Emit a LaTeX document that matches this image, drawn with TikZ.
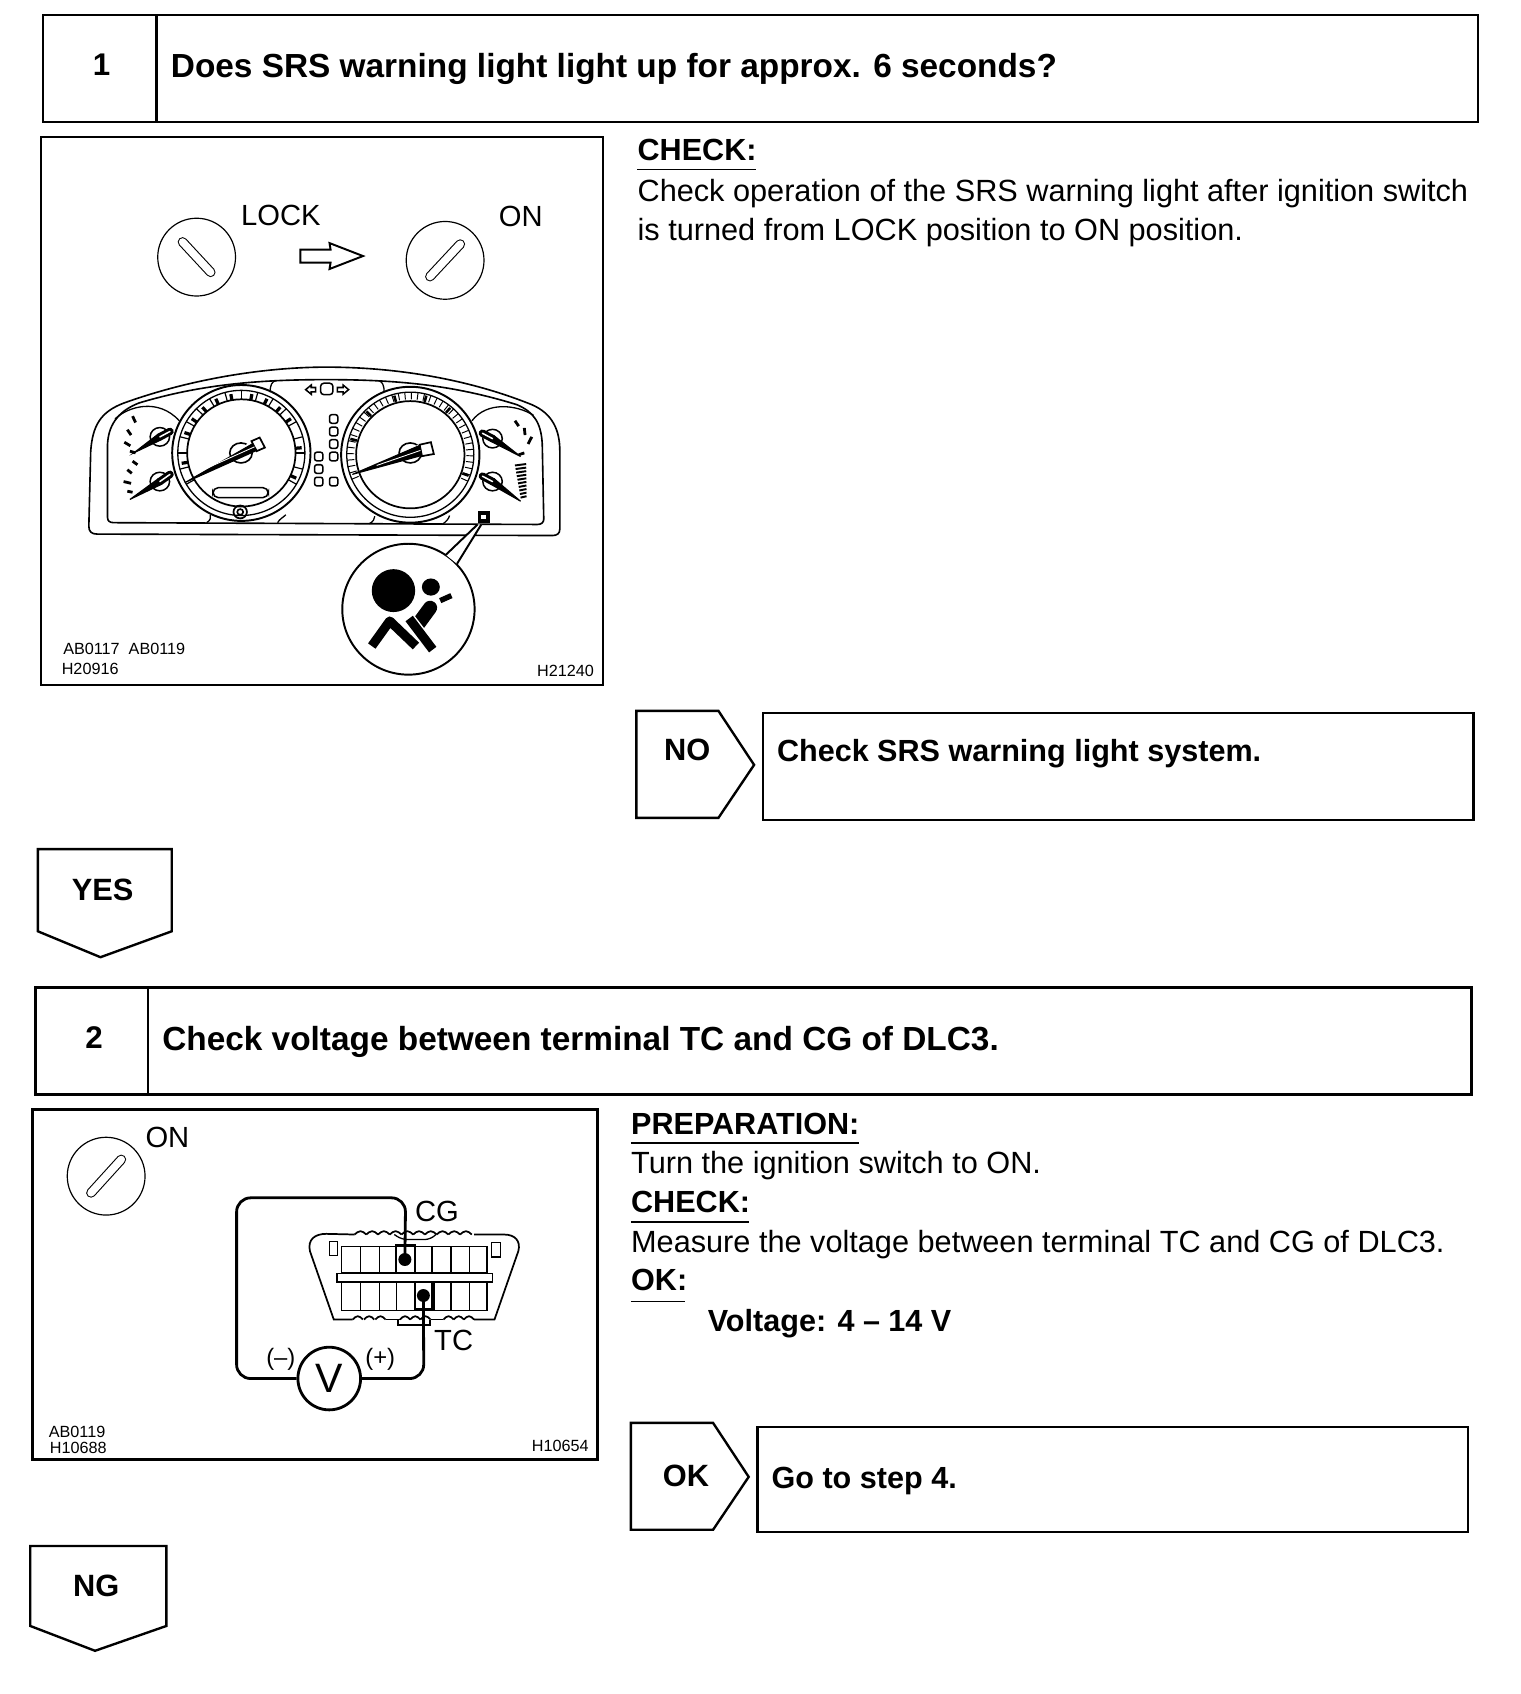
\documentclass[tikz,border=0pt]{standalone}
\usepackage{fontspec}
\setmainfont{Liberation Sans}
\usetikzlibrary{arrows.meta,calc}
\tikzset{
  frameline/.style={line width=2.2pt,black},
  stepnum/.style={font=\fontsize{29}{34}\bfseries\selectfont},
  steptitle/.style={font=\fontsize{30.9}{36}\bfseries\selectfont,anchor=west,inner sep=0pt},
  answer/.style={font=\fontsize{28.5}{34}\bfseries\selectfont,inner sep=0pt},
  bodyhead/.style={font=\fontsize{28.3}{34}\bfseries\selectfont,anchor=west,inner sep=0pt},
  bodytext/.style={font=\fontsize{28.4}{34}\selectfont,anchor=west,inner sep=0pt},
  figlabel/.style={font=\fontsize{27}{32}\selectfont,inner sep=0pt},
  figcode/.style={font=\fontsize{15}{18}\selectfont,inner sep=0pt},
  knob/.style={circle,draw,line width=1.1pt,minimum size=72pt,inner sep=0pt},
  slot/.style={double=white,double distance=7pt,line width=1pt,line cap=round},
  thinpart/.style={line width=1.2pt},
  wire/.style={line width=2.6pt,rounded corners=13pt},
}
\begin{document}
\begin{tikzpicture}[x=1pt,y=-1pt]
\useasboundingbox (0,0) rectangle (1407,1568);
\fill[white] (0,0) rectangle (1407,1568);
% ---- step 1 header
\draw[frameline] (40,14) rectangle (1368,113);
\draw[frameline] (145,14)--(145,113);
\node[stepnum] (numone) at (94,60) {1};
\node[steptitle] (titleone) at (158,64) {Does SRS warning light light up for approx. 6 seconds?};
% ---- step 1 figure
\draw[frameline] (38,127) rectangle (558,634);
\node[knob] (lockknob) at (182,238) {};
\node[knob] (onknob) at (412,241) {};
\draw[slot] (169,224)--(195,252);
\draw[slot] (398,256)--(426,226);
\node[figlabel] (locklabel) at (260,199) {LOCK};
\node[figlabel] (onlabel) at (482,200) {ON};
\draw[line width=1.8pt,line join=miter] (278,231)--(306,231)--(305,225)--(336,237)--(305,249)--(306,243)--(278,243)--cycle;
% cluster, written in a finer grid
\begin{scope}[shift={(28.6,119.7)},x=0.346pt,y=-0.331pt]
\draw[line width=1.5pt] (178,1132) .. controls (162,1132) and (155,1125) .. (155,1110)--(160,900) .. controls (165,830) and (185,790) .. (250,765) .. controls (450,690) and (650,665) .. (790,665) .. controls (950,665) and (1150,690) .. (1340,770) .. controls (1395,795) and (1415,840) .. (1415,900)--(1415,1118) .. controls (1415,1130) and (1408,1136) .. (1395,1136)--cycle;
\draw[line width=1.5pt] (222,1100) .. controls (210,1100) and (205,1095) .. (205,1085)--(205,880) .. controls (208,820) and (240,785) .. (290,765) .. controls (450,715) and (600,700) .. (790,700) .. controls (980,700) and (1130,715) .. (1300,770) .. controls (1345,790) and (1365,820) .. (1368,880)--(1372,1090) .. controls (1372,1100) and (1365,1105) .. (1355,1105)--cycle;
\draw[thinpart] (225,810) .. controls (260,775) and (340,750) .. (397,815);
\draw[thinpart] (1180,815) .. controls (1220,760) and (1300,770) .. (1345,800);
\draw[thinpart] (640,735) .. controls (640,715) and (645,705) .. (655,703);
\draw[thinpart] (945,735) .. controls (945,715) and (940,705) .. (930,703);
\draw[thinpart] (470,1100) .. controls (480,1095) and (482,1085) .. (480,1078);
\draw[thinpart] (660,1100) .. controls (665,1090) and (675,1085) .. (682,1078);
\draw[thinpart] (905,1103) .. controls (915,1098) and (920,1090) .. (920,1082);
\draw[thinpart] (1100,1105) .. controls (1110,1098) and (1118,1090) .. (1120,1080);
% speedometer and tachometer
\foreach \cx/\cy in {563/905,1015/910}{
  \draw[line width=1.8pt] (\cx,\cy) circle [x radius=185,y radius=190];
  \draw[thinpart] (\cx,\cy) circle [x radius=170,y radius=175];
  \draw[line width=1.6pt] (\cx,\cy) circle [x radius=145,y radius=150];
}
\foreach \a in {-30,-15,...,210}
  \draw[line width=1.1pt] ({563+145*cos(\a)},{905-150*sin(\a)})--({563+170*cos(\a)},{905-175*sin(\a)});
\foreach \a in {-25,5,35,50,65,80,100,115,130,145,160,190}
  \draw[line width=3pt] ({563+145*cos(\a)},{905-150*sin(\a)})--({563+162*cos(\a)},{905-167*sin(\a)});
\foreach \a in {-25,-19,...,205}
  \draw[line width=.9pt] ({1015+150*cos(\a)},{910-155*sin(\a)})--({1015+170*cos(\a)},{910-175*sin(\a)});
\foreach \a in {-20,50,75,105,135,165}
  \draw[line width=2.4pt] ({1015+148*cos(\a)},{910-153*sin(\a)})--({1015+166*cos(\a)},{910-171*sin(\a)});
% main needles
\draw[line width=1.5pt] (562,905) circle [x radius=30,y radius=28];
\fill[white] (555,895)--(598,868)--(610,895)--(575,912)--cycle;
\draw[line width=1.6pt,fill=white] (590,872)--(612,862)--(626,890)--(604,900)--cycle;
\draw[line width=1pt,fill=black] (412,988)--(592,880)--(604,898)--cycle;
\draw[white,line width=.8pt] (470,948)--(598,888);
\draw[line width=1.5pt] (1015,905) circle [x radius=30,y radius=28];
\fill[white] (1005,892)--(1045,880)--(1055,905)--(1020,915)--cycle;
\draw[line width=1.6pt,fill=white] (1040,882)--(1070,875)--(1078,908)--(1046,914)--cycle;
\draw[line width=1pt,fill=black] (860,965)--(1040,884)--(1046,912)--cycle;
\draw[white,line width=.8pt] (925,940)--(1042,898);
% small gauges
\foreach \hx/\hy/\tx/\ty/\bx/\by in {
  345/860/275/905/372/845,345/985/265/1035/372/965,
  1235/865/1310/915/1208/850,1235/985/1310/1040/1208/970}{
  \draw[line width=1.4pt] (\hx,\hy) circle [radius=26];
  \draw[line width=1pt,fill=black] (\tx,\ty)--($(\hx,\hy)!3pt!90:(\tx,\ty)$)--($(\hx,\hy)!3pt!-90:(\tx,\ty)$)--cycle;
  \draw[line width=7pt,line cap=round] (\hx,\hy)--(\bx,\by);
  \draw[white,line width=1.4pt,line cap=round] (\hx,\hy)--(\bx,\by);
}
\foreach \tx/\ty/\ux/\uy in {
  272/802/280/820,258/840/268/855,250/875/266/885,265/900/280/905,272/928/285/938,
  258/952/270/962,248/985/268/990,258/1012/272/1015,
  1295/815/1305/830,1320/835/1322/855,1340/860/1330/880,1320/905/1305/910}
  \draw[line width=2.6pt] (\tx,\ty)--(\ux,\uy);
\foreach \y in {940,950,...,1030}
  \draw[line width=1.8pt] ({1295+(\y-940)/6},\y)--({1325-(\y-940)/10+(\y-940)/9},{\y-4});
% tell-tales
\foreach \tx/\ty in {810/810,810/845,810/880,810/915,810/985,770/915,770/950,770/985}
  \draw[line width=1.4pt,rounded corners=2pt] ({\tx-11},{\ty-12}) rectangle ({\tx+11},{\ty+12});
\draw[line width=1.4pt,rounded corners=3pt] (775,710) rectangle (808,742);
\draw[line width=1.4pt] (762,722)--(750,722)--(750,715)--(735,728)--(750,741)--(750,734)--(762,734)--cycle;
\draw[line width=1.4pt] (820,722)--(835,722)--(835,715)--(850,728)--(835,741)--(835,734)--(820,734)--cycle;
\draw[line width=1.4pt,rounded corners=5pt] (487,1002) rectangle (635,1030);
\draw[line width=1.6pt] (560,1070) circle [radius=18];
\draw[line width=1.5pt] (560,1070) circle [radius=8];
\draw[line width=3pt] (1201,1073) rectangle (1223,1095);
% warning light callout
\draw[line width=1.8pt] (1010,1342) circle [x radius=177,y radius=183];
\fill[white] (1110,1190)--(1140,1215)--(1205,1105)--(1195,1105)--cycle;
\draw[line width=1.8pt] (1110,1190)--(1195,1105);
\draw[line width=1.8pt] (1140,1215)--(1205,1105);
\fill (970,1290) circle [x radius=58,y radius=60];
\fill (1070,1280) circle [radius=24];
\draw[line width=5pt] (1095,1318)--(1125,1304);
\draw[line width=8.5pt,line join=round] (912,1445)--(960,1375)--(1030,1445);
\draw[line width=13pt,line cap=round] (1068,1338)--(1035,1385);
\draw[white,line width=11pt] (1010,1365)--(1078,1458);
\draw[line width=8.5pt] (1012,1368)--(1075,1455);
\end{scope}
\node[figcode] (codea) at (115,601) {AB0117~~AB0119};
\node[figcode,anchor=west] (codeb) at (57,619) {H20916};
\node[figcode,anchor=east] (codec) at (550,621) {H21240};
% ---- step 1 text
\node[bodyhead] (checkone) at (590,139) {CHECK:};
\draw[line width=1.2pt] (590,157)--(700,157);
\node[bodytext] (lineone) at (590,179) {Check operation of the SRS warning light after ignition switch};
\node[bodytext] (linetwo) at (590,215) {is turned from LOCK position to ON position.};
% ---- step 1 answers
\draw[frameline] (589,658)--(665,658)--(698,708)--(665,757)--(589,757)--cycle;
\node[answer] (noflag) at (636,694) {NO};
\draw[frameline] (706,660) rectangle (1364,759);
\node[bodyhead] (notext) at (719,698) {Check SRS warning light system.};
\draw[frameline] (35,786)--(159,786)--(159,862)--(93,886)--(35,862)--cycle;
\node[answer] (yesflag) at (95,824) {YES};
% ---- step 2 header
\draw[frameline] (33,914) rectangle (1362,1013);
\draw[frameline] (137,914)--(137,1013);
\node[stepnum] (numtwo) at (87,960) {2};
\node[steptitle] (titletwo) at (150,964) {Check voltage between terminal TC and CG of DLC3.};
% ---- step 2 figure
\draw[frameline] (30,1027) rectangle (553,1351);
\begin{scope}[shift={(27.2,1017.7)},x=0.35pt,y=-0.3086pt]
\node[knob] (onknobb) at (203,230) {};
\draw[slot] (163,280)--(243,180);
\node[figlabel] (onlabelb) at (365,115) {ON};
\node[figlabel] (cglabel) at (1078,335) {CG};
\node[figlabel] (tclabel) at (1122,722) {TC};
% connector
\draw[line width=1.6pt] (860,405)--(785,403) .. controls (755,403) and (735,420) .. (742,455)--(805,660)--(855,660);
\draw[line width=1.6pt] (1176,405)--(1255,405) .. controls (1285,405) and (1300,425) .. (1293,455)--(1230,660)--(1176,660);
\foreach \sx in {860,891,...,1146}
  \draw[line width=1.6pt] (\sx,405) sin ({\sx+15.5},395) cos ({\sx+31},405);
\foreach \sx in {855,885,915,980,1007,1034,1095,1122,1149}
  \draw[line width=1.6pt] (\sx,660) sin ({\sx+13.5},650) cos ({\sx+27},660);
\draw[line width=1.6pt] (942,660)--(980,660) (1061,660)--(1095,660);
\draw[thinpart,rounded corners=5pt] (965,405)--(985,420)--(1060,420)--(1075,405);
\draw[line width=1.6pt] (975,660)--(975,676)--(1060,676)--(1060,660);
\draw[thinpart] (825,440) rectangle (1210,520);
\draw[thinpart] (825,548) rectangle (1210,632);
\foreach \gx in {875,925,970,1020,1065,1115,1163}{
  \draw[thinpart] (\gx,440)--(\gx,520);
  \draw[thinpart] (\gx,548)--(\gx,632);
}
\draw[line width=1.5pt,fill=white] (813,522) rectangle (1225,548);
\draw[thinpart] (793,425) rectangle (815,468);
\draw[thinpart] (1222,428) rectangle (1245,472);
\draw[line width=2.4pt] (970,438) rectangle (1020,520);
\draw[line width=2.4pt] (1020,548) rectangle (1068,630);
% meter and leads
\node[circle,draw,line width=2.6pt,minimum size=58pt,inner sep=0pt,font=\fontsize{38}{44}\selectfont] (vmeter) at (793,837) {V};
\node[circle,fill,inner sep=0pt,minimum size=12pt] (cgpin) at (993,480) {};
\node[circle,fill,inner sep=0pt,minimum size=12pt] (tcpin) at (1042,588) {};
\draw[wire] (vmeter.west)--(548,837)--(548,295)--(995,295)--(cgpin.center);
\draw[wire] (vmeter.east)--(1043,837)--(tcpin.center);
\node[font=\fontsize{22}{26}\selectfont,inner sep=0pt] (minuslabel) at (665,778) {(–)};
\node[font=\fontsize{22}{26}\selectfont,inner sep=0pt] (pluslabel) at (928,778) {(+)};
\end{scope}
\node[figcode,anchor=west] (coded) at (45,1325) {AB0119};
\node[figcode,anchor=west] (codee) at (46,1340) {H10688};
\node[figcode,anchor=east] (codef) at (545,1338) {H10654};
% ---- step 2 text
\node[bodyhead] (preptitle) at (584,1040) {PREPARATION:};
\draw[line width=1.2pt] (584,1058)--(795,1058);
\node[bodytext] (prepline) at (584,1079) {Turn the ignition switch to ON.};
\node[bodyhead] (checktwo) at (584,1113) {CHECK:};
\draw[line width=1.2pt] (584,1131)--(693,1131);
\node[bodytext] (checkline) at (584,1152) {Measure the voltage between terminal TC and CG of DLC3.};
\node[bodyhead] (okhead) at (584,1185) {OK:};
\draw[line width=1.2pt] (584,1205)--(634,1205);
\node[bodyhead] (voltline) at (655,1225) {Voltage: 4 -- 14 V};
% ---- step 2 answers
\draw[frameline] (584,1317)--(660,1317)--(693,1367)--(660,1416)--(584,1416)--cycle;
\node[answer] (okflag) at (635,1366) {OK};
\draw[frameline] (701,1321) rectangle (1359,1418);
\node[bodyhead] (oktext) at (714,1371) {Go to step 4.};
\draw[frameline] (28,1431)--(154,1431)--(154,1505)--(88,1528)--(28,1505)--cycle;
\node[answer] (ngflag) at (89,1468) {NG};
\end{tikzpicture}
\end{document}
